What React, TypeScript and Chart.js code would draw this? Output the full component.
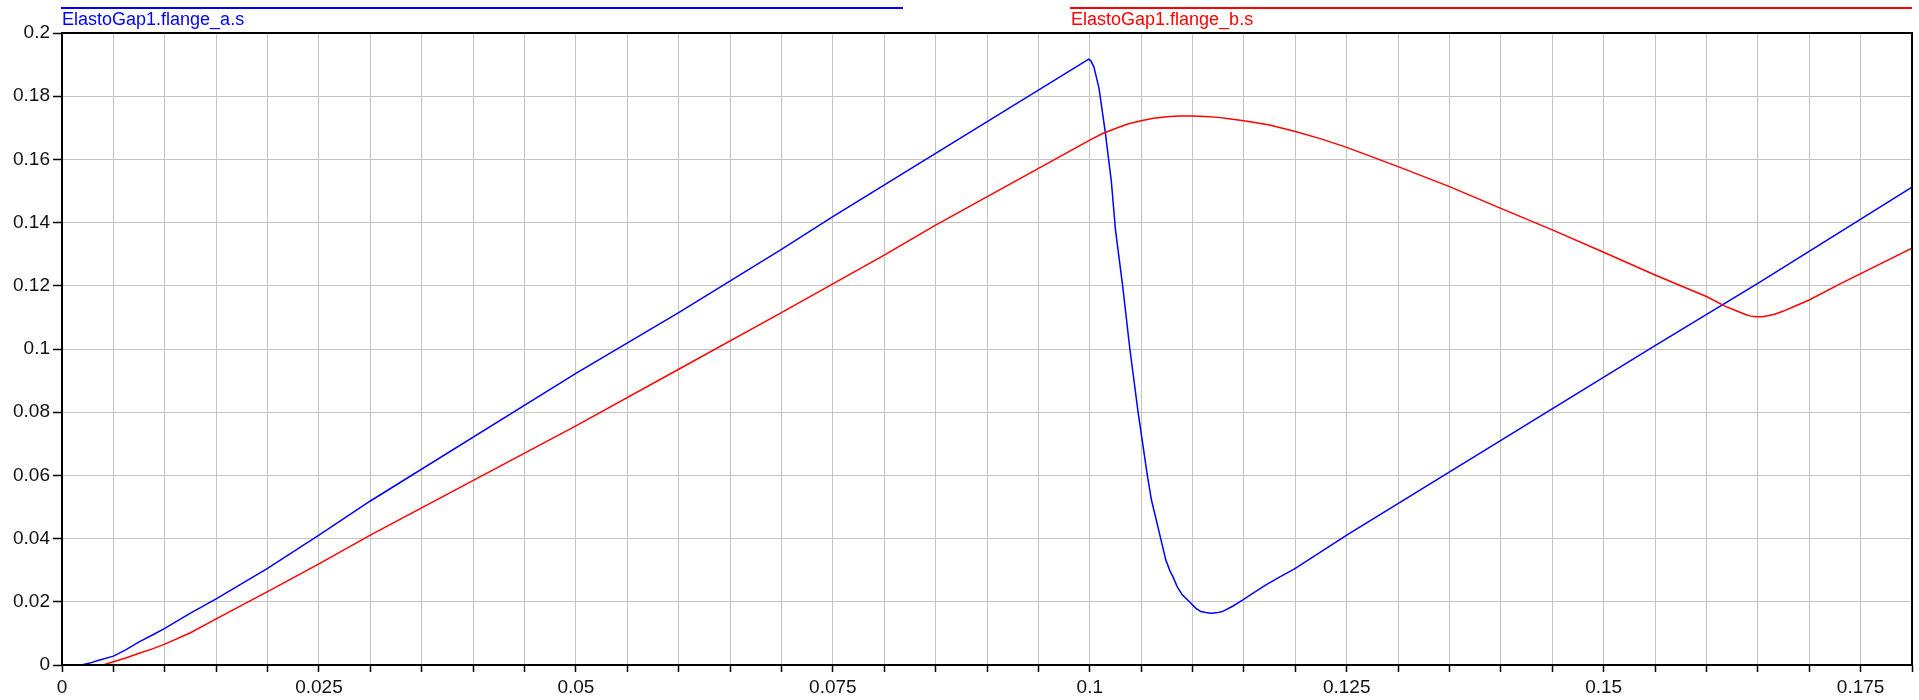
import React, { useEffect, useRef } from 'react';
import { Chart, registerables } from 'chart.js';

Chart.register(...registerables);

const seriesNames = ['ElastoGap1.flange_a.s', 'ElastoGap1.flange_b.s'];
const seriesColors = ['rgb(0,0,255)', 'rgb(255,0,0)'];

const xTickLabels = ['0', '0.025', '0.05', '0.075', '0.1', '0.125', '0.15', '0.175'];
const yTickLabels = ['0', '0.02', '0.04', '0.06', '0.08', '0.1', '0.12', '0.14', '0.16', '0.18', '0.2'];

const flangeATime = [
  0, 0.0019, 0.0027, 0.0035, 0.005, 0.0062, 0.0075, 0.0088, 0.01, 0.0125, 0.015, 0.02, 0.025, 0.03, 0.05, 0.06, 0.07, 0.075,
  0.0999, 0.1001, 0.1004, 0.1009, 0.1015, 0.1021, 0.1025, 0.1032, 0.1039, 0.1047, 0.1056, 0.106,
  0.1065, 0.1069, 0.1074, 0.1078, 0.1081, 0.1085, 0.109, 0.1097, 0.1103, 0.1108, 0.1113, 0.1118, 0.1123, 0.1129,
  0.1139, 0.1149, 0.116, 0.1171, 0.1185, 0.12, 0.125, 0.155, 0.165, 0.18,
];
const flangeAPos = [
  0, 0, 0.0006, 0.0014, 0.0028, 0.0048, 0.0073, 0.0095, 0.0116, 0.0164, 0.0209, 0.0306, 0.0411, 0.0519, 0.0923, 0.1115, 0.1315, 0.1419,
  0.1917, 0.1912, 0.1893, 0.1825, 0.1688, 0.153, 0.1377, 0.12, 0.1, 0.08, 0.06, 0.0522,
  0.0455, 0.04, 0.0332, 0.0298, 0.0279, 0.0248, 0.0222, 0.02, 0.018, 0.0169, 0.0166, 0.0164, 0.0165, 0.0169,
  0.0186, 0.0206, 0.023, 0.0253, 0.0279, 0.0306, 0.0411, 0.1011, 0.1208, 0.1512,
];

const flangeBTime = [
  0, 0.004, 0.005, 0.0062, 0.0075, 0.0088, 0.01, 0.0125, 0.015, 0.02, 0.025, 0.03, 0.05, 0.06, 0.07, 0.08, 0.085,
  0.1, 0.1012, 0.1025, 0.1037, 0.105, 0.1062, 0.1075, 0.1087, 0.11, 0.1112, 0.1125, 0.1137, 0.115, 0.1175, 0.12,
  0.1225, 0.125, 0.13, 0.135, 0.14, 0.145, 0.15, 0.155, 0.16, 0.1619, 0.1626, 0.1632, 0.1638, 0.1643, 0.1648,
  0.1654, 0.166, 0.1667, 0.1675, 0.1687, 0.17, 0.173, 0.18,
];
const flangeBPos = [
  0, 0, 0.001, 0.0022, 0.0037, 0.0051, 0.0066, 0.0102, 0.0146, 0.0232, 0.032, 0.0411, 0.0757, 0.0936, 0.1115, 0.1297, 0.1392,
  0.1661, 0.1681, 0.1698, 0.1712, 0.1722, 0.1730, 0.1735, 0.1737, 0.1737, 0.1736, 0.1733, 0.1728, 0.1722, 0.1709, 0.1688,
  0.1665, 0.1638, 0.1577, 0.1514, 0.1445, 0.1377, 0.1306, 0.1234, 0.1166, 0.1134, 0.1125, 0.1117, 0.1109, 0.1104, 0.1102,
  0.1102, 0.1105, 0.1111, 0.112, 0.1137, 0.1155, 0.1206, 0.1319,
];

const FONT = '"Liberation Sans", Arial, Helvetica, sans-serif';

const framePlugin = {
  id: 'frameAndLegend',
  afterDatasetsDraw(chart: any) {
    const { ctx, chartArea: a } = chart;
    ctx.save();
    ctx.strokeStyle = '#000';
    ctx.lineWidth = 2;
    ctx.strokeRect(a.left, a.top, a.right - a.left, a.bottom - a.top);
    ctx.restore();
  },
  afterDraw(chart: any) {
    const { ctx, chartArea: a } = chart;
    const colW = 842;
    const starts = [a.left - 1, a.right - colW];
    ctx.save();
    seriesNames.forEach((name, i) => {
      const x0 = starts[i];
      ctx.strokeStyle = seriesColors[i];
      ctx.lineWidth = 2;
      ctx.beginPath();
      ctx.moveTo(x0, 8);
      ctx.lineTo(x0 + colW, 8);
      ctx.stroke();
      ctx.fillStyle = seriesColors[i];
      ctx.font = `18px ${FONT}`;
      ctx.textBaseline = 'alphabetic';
      ctx.textAlign = 'left';
      ctx.fillText(name, x0 + 1, 25);
    });
    ctx.restore();
  },
};

export default function App() {
  const ref = useRef<HTMLCanvasElement | null>(null);

  useEffect(() => {
    document.documentElement.style.overflow = 'hidden';
    document.body.style.margin = '0';
    document.body.style.overflow = 'hidden';
    const canvas = ref.current;
    if (!canvas) return;

    const toPoints = (xs: number[], ys: number[]) => xs.map((x, i) => ({ x, y: ys[i] }));

    const chart = new Chart(canvas, {
      type: 'line',
      data: {
        datasets: [
          {
            label: seriesNames[0],
            data: toPoints(flangeATime, flangeAPos),
            borderColor: seriesColors[0],
            borderWidth: 1.5,
            pointRadius: 0,
            tension: 0,
            fill: false,
            order: 1,
          },
          {
            label: seriesNames[1],
            data: toPoints(flangeBTime, flangeBPos),
            borderColor: seriesColors[1],
            borderWidth: 1.5,
            pointRadius: 0,
            tension: 0,
            fill: false,
            order: 0,
          },
        ],
      },
      options: {
        responsive: false,
        animation: false,
        parsing: false as any,
        layout: { padding: { top: 33, right: 7, left: 0, bottom: 0 } },
        plugins: {
          legend: { display: false },
          tooltip: { enabled: false },
        },
        scales: {
          x: {
            type: 'linear',
            min: 0,
            max: 0.18,
            border: { display: false },
            grid: {
              color: '#c4c4c4',
              lineWidth: 1,
              drawTicks: true,
              tickLength: 7,
              tickColor: '#000',
              tickWidth: 1.5,
            },
            ticks: {
              stepSize: 0.005,
              autoSkip: false,
              maxRotation: 0,
              minRotation: 0,
              padding: 4,
              color: '#111',
              font: { family: FONT, size: 19 },
              callback: (_v: any, index: number) => (index % 5 === 0 ? xTickLabels[index / 5] ?? '' : ''),
            },
            afterFit: (scale: any) => {
              scale.height = 35;
            },
          },
          y: {
            type: 'linear',
            min: 0,
            max: 0.2,
            border: { display: false },
            grid: {
              color: '#c4c4c4',
              lineWidth: 1,
              drawTicks: true,
              tickLength: 9,
              tickColor: '#000',
              tickWidth: 1.5,
            },
            ticks: {
              stepSize: 0.02,
              autoSkip: false,
              padding: 3,
              color: '#111',
              font: { family: FONT, size: 19 },
              callback: (_v: any, index: number) => yTickLabels[index] ?? '',
            },
            afterFit: (scale: any) => {
              scale.width = 62;
            },
          },
        },
      },
      plugins: [framePlugin],
    });

    return () => {
      chart.destroy();
    };
  }, []);

  return (
    <div style={{ width: 1919, height: 700, background: '#fff' }}>
      <canvas ref={ref} width={1919} height={700} style={{ display: 'block' }} />
    </div>
  );
}
